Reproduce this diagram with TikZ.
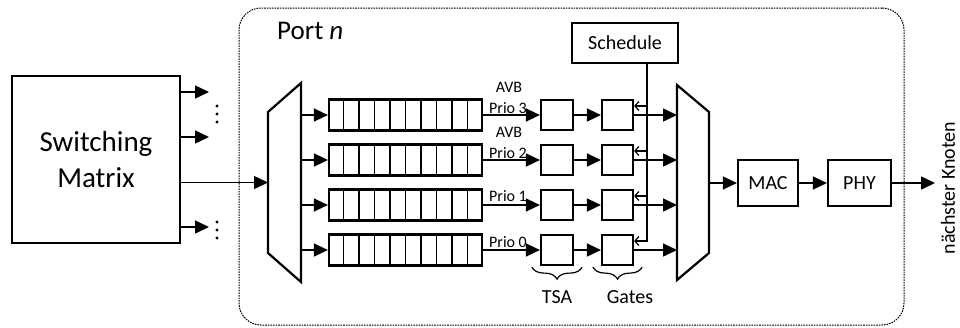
\documentclass[tikz,border=0pt]{standalone}
\usepackage{fontspec}
\setmainfont{Carlito}
\usetikzlibrary{arrows.meta,decorations.pathreplacing,calc}
\begin{document}
\begin{tikzpicture}[x=1pt,y=-1pt,
  box/.style={draw, line width=2.2pt, inner sep=0pt},
  conn/.style={line width=1.5pt, -{Triangle[length=14pt,width=13pt]}},
  schedarrow/.style={line width=1.2pt, -{Straight Barb[length=4pt,width=9pt]}},
  lbl/.style={font=\fontsize{16}{18}\selectfont, inner sep=0pt},
  mid/.style={font=\fontsize{20}{24}\selectfont, inner sep=0pt},
  brc/.style={line width=1.2pt, decorate, decoration={brace, mirror, amplitude=12pt}},
  mux/.style={line width=2.2pt, line join=miter},
  dotc/.style={fill=black}]
\useasboundingbox (0,0) rectangle (960,327);

% Port frame
\node[draw, line width=1pt, dash pattern=on 1.6pt off 1pt, rounded corners=22pt,
      minimum width=665pt, minimum height=317pt, inner sep=0pt] (port) at (571.5,166.5) {};
\node[font=\fontsize{27}{30}\selectfont, anchor=west, inner sep=0pt] (portlbl) at (277,31) {Port \textit{n}};

% Switching matrix
\node[box, minimum width=168pt, minimum height=167pt, align=center,
      font=\fontsize{29}{36}\selectfont] (sm) at (96,159.5) {Switching\\Matrix};
\coordinate (d1) at (209,92);
\coordinate (d2) at (209,137);
\coordinate (d3) at (209,227);
\draw[conn] (sm.east |- d1) -- (d1);
\draw[conn] (sm.east |- d2) -- (d2);
\draw[conn] (sm.east |- d3) -- (d3);
\foreach \yy in {106,114,122,222,230,238} \fill[dotc] (217,\yy) circle (1.7pt);

% Mux 1
\draw[mux] (301,83) -- (268,112) -- (268,253) -- (301,282) -- cycle;
\coordinate (m1in) at (268,182.5);
\draw[conn] (sm.east |- m1in) -- (m1in);

% Mux 2
\draw[mux] (677,85) -- (709,112) -- (709,253) -- (677,280) -- cycle;
\coordinate (m2out) at (709,183);

% Schedule
\node[box, minimum width=106pt, minimum height=40pt, mid] (sched) at (625,43) {Schedule};
\coordinate (sv) at (647,242);

% Rows
\foreach \i/\yy in {0/115,1/160,2/205,3/250} {
  \coordinate (m1o\i) at (301,\yy);
  \coordinate (m2i\i) at (677,\yy);
  \node[box, minimum width=153pt, minimum height=31pt] (q\i) at (405.5,\yy) {};
  \foreach \k in {1,...,9}
    \draw[line width=1.8pt] ($(q\i.north west)!\k/10!(q\i.north east)$) -- ($(q\i.south west)!\k/10!(q\i.south east)$);
  \node[box, minimum width=32pt, minimum height=30pt] (t\i) at (557,\yy) {};
  \node[box, minimum width=31pt, minimum height=30pt] (g\i) at (617.5,\yy) {};
  \draw[conn] (m1o\i) -- (q\i.west);
  \draw[conn] (q\i.east) -- (t\i.west);
  \draw[conn] (t\i.east) -- (g\i.west);
  \draw[conn] (g\i.east) -- (m2i\i);
  \coordinate (gb\i) at ($(g\i.east)+(0,-9)$);
}
\draw[line width=1.2pt] (sched.south -| sv) -- (sv);
\foreach \i in {0,1,2,3} \draw[schedarrow] (sv |- gb\i) -- (gb\i);

% Row labels
\node[lbl] (avb3) at (509,87) {AVB};
\node[lbl] (p3) at (508,108) {Prio 3};
\node[lbl] (avb2) at (509,132) {AVB};
\node[lbl] (p2) at (508,153) {Prio 2};
\node[lbl] (p1) at (508,196) {Prio 1};
\node[lbl] (p0) at (508,242) {Prio 0};

% Braces
\draw[brc] ($(t3.south west)+(-8,1)$) -- ($(t3.south east)+(8,1)$);
\draw[brc] ($(g3.south west)+(-8,1)$) -- ($(g3.south east)+(8,1)$);
\node[mid] (tsalbl) at (557,297) {TSA};
\node[mid] (gateslbl) at (630,297) {Gates};

% MAC / PHY
\node[box, minimum width=60pt, minimum height=46pt, mid] (mac) at (768,183) {MAC};
\node[box, minimum width=63pt, minimum height=46pt, mid] (phy) at (859.5,183) {PHY};
\coordinate (out) at (935,183);
\draw[conn] (m2out) -- (mac.west);
\draw[conn] (mac.east) -- (phy.west);
\draw[conn] (phy.east) -- (out);
\node[rotate=90, font=\fontsize{20}{24}\selectfont, inner sep=0pt] (next) at (948,188) {nächster Knoten};
\end{tikzpicture}
\end{document}
